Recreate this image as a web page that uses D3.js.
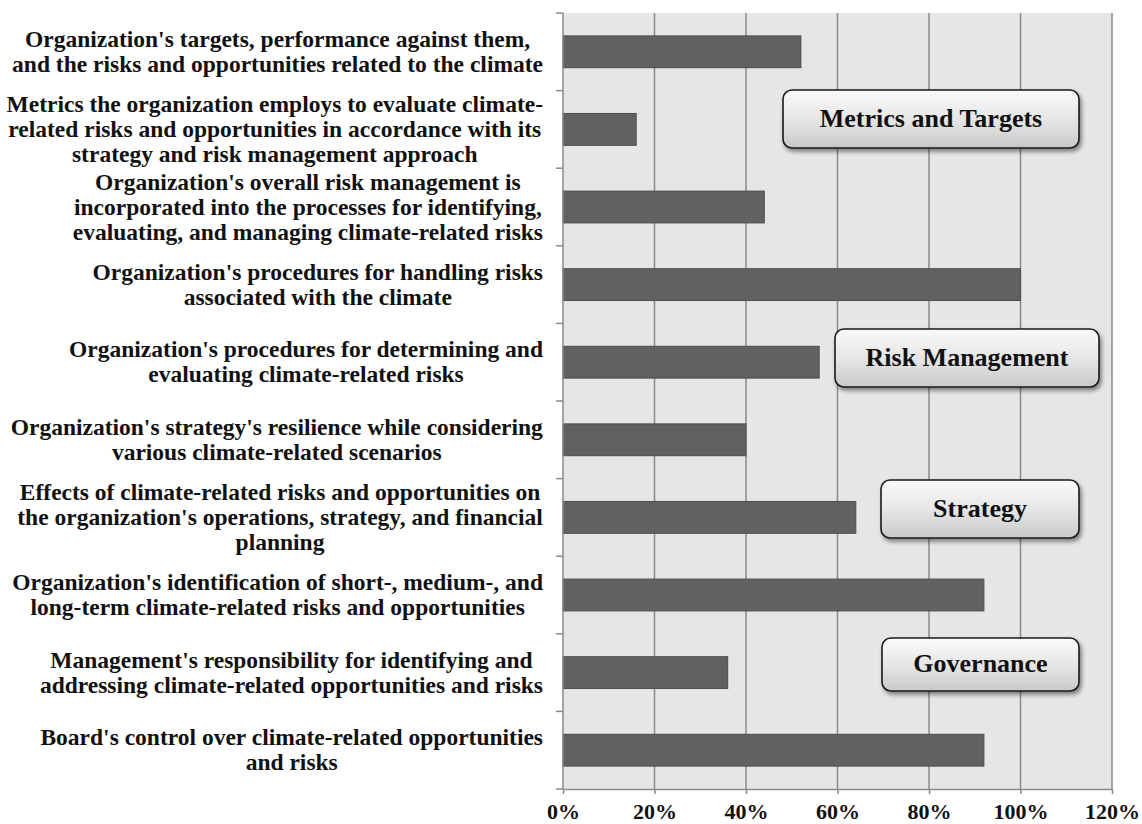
<!DOCTYPE html>
<html>
<head>
<meta charset="utf-8">
<script src="https://cdn.jsdelivr.net/npm/d3@7"></script>
</head>
<body style="margin:0;padding:0;background:#ffffff;">
<svg id="chart" width="1142" height="824" style="display:block;"></svg>
<script>
// Disclosure items, listed top to bottom, each as its wrapped lines
const categories = [
  ["Organization's targets, performance against them,", "and the risks and opportunities related to the climate"],
  ["Metrics the organization employs to evaluate climate-", "related risks and opportunities in accordance with its", "strategy and risk management approach"],
  ["Organization's overall risk management is", "incorporated into the processes for identifying,", "evaluating, and managing climate-related risks"],
  ["Organization's procedures for handling risks", "associated with the climate"],
  ["Organization's procedures for determining and", "evaluating climate-related risks"],
  ["Organization's strategy's resilience while considering", "various climate-related scenarios"],
  ["Effects of climate-related risks and opportunities on", "the organization's operations, strategy, and financial", "planning"],
  ["Organization's identification of short-, medium-, and", "long-term climate-related risks and opportunities"],
  ["Management's responsibility for identifying and", "addressing climate-related opportunities and risks"],
  ["Board's control over climate-related opportunities", "and risks"]
];

// Share of organizations disclosing each item
const values = [0.52, 0.16, 0.44, 1.00, 0.56, 0.40, 0.64, 0.92, 0.36, 0.92];

// Axis ticks
const xTicks = [0, 0.2, 0.4, 0.6, 0.8, 1.0, 1.2];

// Disclosure pillars shown as callout boxes
const groups = ["Metrics and Targets", "Risk Management", "Strategy", "Governance"];

// Callout box placement (pixels)
const groupBoxes = [
  { x: 783, y: 90,  w: 296, h: 58 },
  { x: 835, y: 329, w: 264, h: 58 },
  { x: 881, y: 480, w: 198, h: 58 },
  { x: 882, y: 638, w: 197, h: 53 }
];

const FONT = "'Liberation Serif', 'Times New Roman', Times, serif";

const svg = d3.select("#chart")
  .style("font-family", FONT)
  .style("font-weight", "bold");
const plot = { left: 563, right: 1112, top: 13, bottom: 789 };

const x = d3.scaleLinear().domain([0, 1.2]).range([plot.left, plot.right]);
const y = d3.scaleBand()
  .domain(d3.range(categories.length))
  .range([plot.top, plot.bottom])
  .paddingInner(0.59)
  .paddingOuter(0.295);

const defs = svg.append("defs");
const grad = defs.append("linearGradient").attr("id", "boxGrad")
  .attr("x1", 0).attr("y1", 0).attr("x2", 0).attr("y2", 1);
grad.append("stop").attr("offset", "0%").attr("stop-color", "#fafafa");
grad.append("stop").attr("offset", "55%").attr("stop-color", "#e4e4e4");
grad.append("stop").attr("offset", "100%").attr("stop-color", "#c8c8c8");

const shadow = defs.append("filter").attr("id", "boxShadow")
  .attr("x", "-10%").attr("y", "-20%").attr("width", "130%").attr("height", "160%");
shadow.append("feDropShadow")
  .attr("dx", 2).attr("dy", 3).attr("stdDeviation", 2.2)
  .attr("flood-color", "#000").attr("flood-opacity", 0.45);

// Plot background
svg.append("rect")
  .attr("x", plot.left).attr("y", plot.top)
  .attr("width", plot.right - plot.left).attr("height", plot.bottom - plot.top)
  .attr("fill", "#e6e6e6");

// Vertical gridlines
svg.append("g").selectAll("line")
  .data(xTicks.slice(1))
  .join("line")
  .attr("x1", d => x(d)).attr("x2", d => x(d))
  .attr("y1", plot.top).attr("y2", plot.bottom)
  .attr("stroke", "#8a8a8a").attr("stroke-width", 1.5);

// Bars
svg.append("g").selectAll("rect")
  .data(values)
  .join("rect")
  .attr("x", x(0))
  .attr("y", (d, i) => y(i))
  .attr("width", d => x(d) - x(0))
  .attr("height", y.bandwidth())
  .attr("fill", "#616161")
  .attr("stroke", "#4e4e4e")
  .attr("stroke-width", 1);

// Bottom axis
const xAxis = d3.axisBottom(x)
  .tickValues(xTicks)
  .tickFormat(d3.format(".0%"))
  .tickSize(5)
  .tickSizeOuter(0)
  .tickPadding(9);
const gx = svg.append("g")
  .attr("transform", `translate(0,${plot.bottom})`)
  .call(xAxis);
gx.select(".domain").attr("stroke", "#8a8a8a").attr("stroke-width", 1.5);
gx.selectAll(".tick line").attr("stroke", "#8a8a8a").attr("stroke-width", 1.5);
gx.selectAll(".tick text")
  .attr("fill", "#111")
  .style("font-family", FONT)
  .style("font-weight", "bold")
  .style("font-size", "22px");

// Left axis: line plus ticks at category boundaries
const boundaries = d3.range(categories.length + 1).map(i => plot.top + i * y.step());
const gy = svg.append("g");
gy.append("line")
  .attr("x1", plot.left).attr("x2", plot.left)
  .attr("y1", plot.top).attr("y2", plot.bottom)
  .attr("stroke", "#8a8a8a").attr("stroke-width", 1.5);
gy.selectAll("line.tick")
  .data(boundaries)
  .join("line")
  .attr("class", "tick")
  .attr("x1", plot.left - 7).attr("x2", plot.left)
  .attr("y1", d => d).attr("y2", d => d)
  .attr("stroke", "#8a8a8a").attr("stroke-width", 1.5);

// Category labels: centred lines, block aligned against the axis
const labelRight = 543;
const lineH = 25;
const labels = svg.append("g")
  .style("font-family", FONT)
  .style("font-weight", "bold")
  .style("font-size", "23.5px")
  .attr("fill", "#111");
categories.forEach((lines, i) => {
  const t = labels.append("text").attr("text-anchor", "middle");
  const cy = y(i) + y.bandwidth() / 2;
  const y0 = cy - (lines.length - 1) * lineH / 2;
  lines.forEach((ln, k) => {
    t.append("tspan")
      .attr("x", 0)
      .attr("y", y0 + k * lineH)
      .attr("dy", "0.33em")
      .text(ln);
  });
  const w = t.node().getBBox().width;
  t.attr("transform", `translate(${labelRight - w / 2},0)`);
});

// Pillar callouts
const boxes = svg.append("g").selectAll("g")
  .data(groups)
  .join("g")
  .attr("transform", (d, i) => `translate(${groupBoxes[i].x},${groupBoxes[i].y})`);
boxes.append("rect")
  .attr("width", (d, i) => groupBoxes[i].w)
  .attr("height", (d, i) => groupBoxes[i].h)
  .attr("rx", 9).attr("ry", 9)
  .attr("fill", "url(#boxGrad)")
  .attr("stroke", "#1a1a1a").attr("stroke-width", 1.6)
  .attr("filter", "url(#boxShadow)");
boxes.append("text")
  .attr("x", (d, i) => groupBoxes[i].w / 2)
  .attr("y", (d, i) => groupBoxes[i].h / 2 - 1)
  .attr("dy", "0.33em")
  .attr("text-anchor", "middle")
  .attr("fill", "#111")
  .style("font-family", FONT)
  .style("font-weight", "bold")
  .style("font-size", "26px")
  .text(d => d);
</script>
</body>
</html>
